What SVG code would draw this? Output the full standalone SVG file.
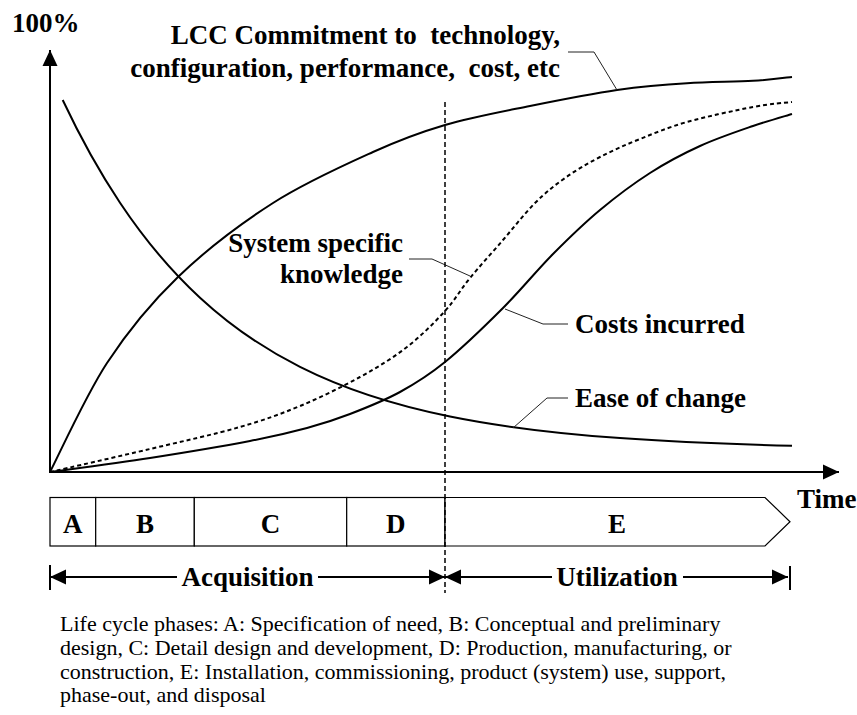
<svg xmlns="http://www.w3.org/2000/svg" width="857" height="715" viewBox="0 0 857 715">
<style>
.lbl{font-family:"Liberation Serif","Times New Roman",serif;font-weight:bold;font-size:27px;fill:#000}
.note{font-family:"Liberation Serif","Times New Roman",serif;font-size:22px;fill:#000}
.curve{fill:none;stroke:#000;stroke-width:2}
.dash{fill:none;stroke:#000;stroke-width:2;stroke-dasharray:4 3}
.lead{fill:none;stroke:#222;stroke-width:1}
.axis{stroke:#000;stroke-width:2;fill:none}
.box{fill:#fff;stroke:#000;stroke-width:1.2}
</style>
<defs>
<marker id="ah" markerUnits="userSpaceOnUse" markerWidth="16" markerHeight="16" refX="16" refY="8" orient="auto" viewBox="0 0 16 16">
<path d="M0,0.5 L16,8 L0,15.5 z" fill="#000"/>
</marker>
</defs>
<rect width="857" height="715" fill="#fff"/>

<g id="axes">
<line class="axis" x1="50" y1="473" x2="50" y2="50" marker-end="url(#ah)"/>
<line class="axis" x1="49" y1="472" x2="839" y2="472" marker-end="url(#ah)"/>
<text class="lbl" x="12" y="32">100%</text>
<text class="lbl" x="797" y="508">Time</text>
</g>

<g id="curve-lcc">
<path class="curve" d="M50,472 C59.5,453.8 85.7,395.5 107,363 C128.3,330.5 150.3,303.7 178,277 C205.7,250.3 240.5,223.8 273,203 C305.5,182.2 344.3,165 373,152 C401.7,139 418.8,132.7 445,125 C471.2,117.3 501.3,111.8 530,106 C558.7,100.2 590.8,93.8 617,90 C643.2,86.2 664.3,84.5 687,83.3 C709.7,82 735.5,81.8 753,80.8 C770.5,79.8 785.5,77.7 792,77"/>
<text class="lbl" x="560" y="44" text-anchor="end" xml:space="preserve">LCC Commitment to  technology,</text>
<text class="lbl" x="560" y="77" text-anchor="end" xml:space="preserve">configuration, performance,  cost, etc</text>
</g>

<g id="curve-ease">
<path class="curve" d="M62.7,100 C81.8,140.5 100.9,174.1 120,202.7 C146.7,242.7 173.3,273.1 200,297.7 C233.3,328.5 266.7,350.1 300,366.9 C350,392.1 400,406.4 450,416.5 C506.7,428 563.3,434 620,438.1 C677.3,442.2 734.7,444.3 792,445.8"/>
<text class="lbl" x="575" y="407">Ease of change</text>
</g>

<g id="curve-knowledge">
<path class="dash" d="M50,472 C66.7,468.2 118.3,456.5 150,449 C181.7,441.5 215,434.2 240,427 C265,419.8 280,414.3 300,406 C320,397.7 342.2,386.8 360,377 C377.8,367.2 392.8,358 407,347 C421.2,336 434.5,322.5 445,311 C455.5,299.5 460.3,289.8 470,278 C479.7,266.2 492.2,252.5 503,240 C513.8,227.5 524.7,213.3 535,203 C545.3,192.7 554.2,185.7 565,178 C575.8,170.3 587.5,163.5 600,157 C612.5,150.5 625.5,144.8 640,139 C654.5,133.2 668.2,127.3 687,122 C705.8,116.7 735.5,110.3 753,107 C770.5,103.7 785.5,102.8 792,102"/>
<text class="lbl" x="403" y="252" text-anchor="end">System specific</text>
<text class="lbl" x="403" y="283" text-anchor="end">knowledge</text>
</g>

<g id="curve-costs">
<path class="curve" d="M50,472 C66.7,469.7 116.7,463.2 150,458 C183.3,452.8 223.8,446 250,441 C276.2,436 290.3,432.5 307,428 C323.7,423.5 334.5,420 350,414 C365.5,408 384.2,400.7 400,392 C415.8,383.3 427.8,376 445,362 C462.2,348 485,326 503,308 C521,290 536.8,270.3 553,254 C569.2,237.7 583.8,223.5 600,210 C616.2,196.5 633.3,183.7 650,173 C666.7,162.3 682.8,153.8 700,146 C717.2,138.2 737.7,131.3 753,126 C768.3,120.7 785.5,116 792,114"/>
<text class="lbl" x="575" y="333">Costs incurred</text>
</g>

<g id="phase-A"><rect class="box" x="50" y="497.5" width="45.7" height="48.5"/><text class="lbl" x="72.8" y="533" text-anchor="middle">A</text></g>
<g id="phase-B"><rect class="box" x="95.7" y="497.5" width="98.6" height="48.5"/><text class="lbl" x="145" y="533" text-anchor="middle">B</text></g>
<g id="phase-C"><rect class="box" x="194.3" y="497.5" width="152.4" height="48.5"/><text class="lbl" x="270.5" y="533" text-anchor="middle">C</text></g>
<g id="phase-D"><rect class="box" x="346.7" y="497.5" width="98.3" height="48.5"/><text class="lbl" x="395.8" y="533" text-anchor="middle">D</text></g>
<g id="phase-E"><polygon class="box" points="445,497.5 765,497.5 790,521.7 765,546 445,546"/><text class="lbl" x="617" y="533" text-anchor="middle">E</text></g>

<g id="acquisition"><text class="lbl" x="247.5" y="586" text-anchor="middle">Acquisition</text></g>
<g id="utilization"><text class="lbl" x="617" y="586" text-anchor="middle">Utilization</text></g>

<g id="connectors">
<polyline class="lead" points="568,52 594,52 617,90"/>
<polyline class="lead" points="409,259 432,259 470,276"/>
<polyline class="lead" points="505,309 543,324 568,324"/>
<polyline class="lead" points="513,428 547,398 568,398"/>
<line x1="445" y1="102" x2="445" y2="593" stroke="#000" stroke-width="1.5" stroke-dasharray="5 3"/>
<line class="axis" x1="50" y1="565" x2="50" y2="590"/>
<line class="axis" x1="790" y1="566" x2="790" y2="590"/>
<line class="axis" x1="177" y1="577" x2="50" y2="577" marker-end="url(#ah)"/>
<line class="axis" x1="318" y1="577" x2="445" y2="577" marker-end="url(#ah)"/>
<line class="axis" x1="552" y1="577" x2="445" y2="577" marker-end="url(#ah)"/>
<line class="axis" x1="683" y1="577" x2="788" y2="577" marker-end="url(#ah)"/>
</g>

<g id="caption">
<text class="note" x="60" y="631">Life cycle phases: A: Specification of need, B: Conceptual and preliminary</text>
<text class="note" x="60" y="655">design, C: Detail design and development, D: Production, manufacturing, or</text>
<text class="note" x="60" y="678.5">construction, E: Installation, commissioning, product (system) use, support,</text>
<text class="note" x="60" y="702">phase-out, and disposal</text>
</g>
</svg>
